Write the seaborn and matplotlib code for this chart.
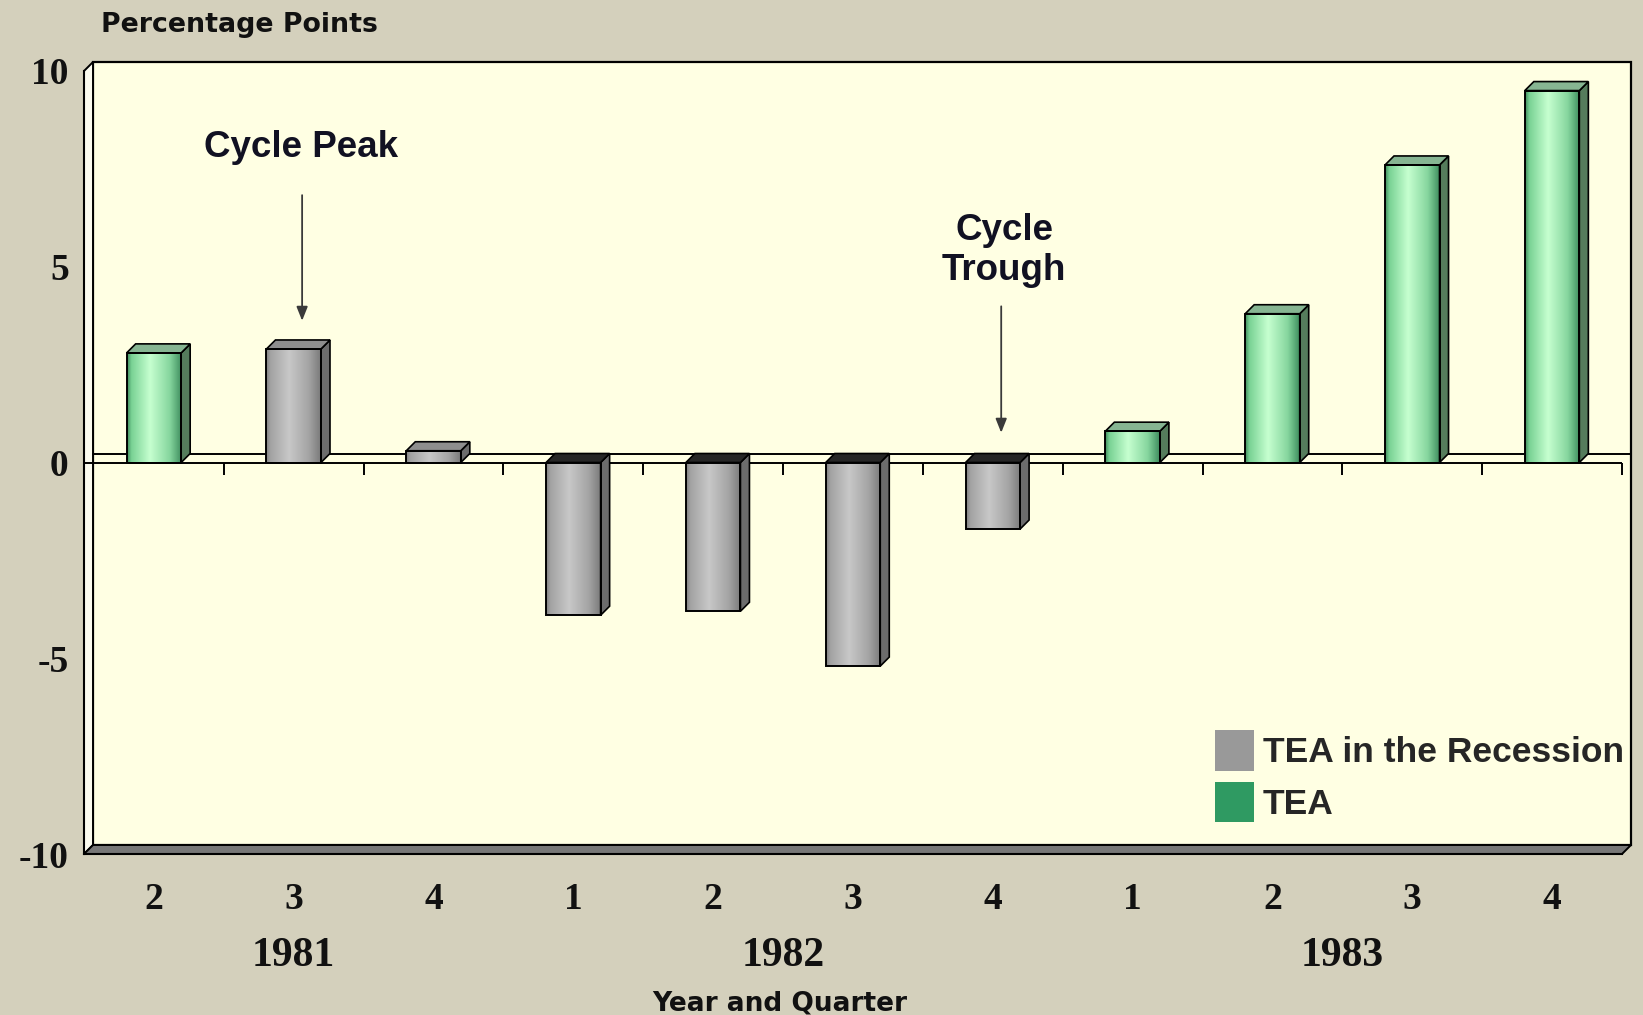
import numpy as np
import pandas as pd
import matplotlib
matplotlib.use("Agg")
import matplotlib.pyplot as plt
import matplotlib.transforms as mtransforms
from matplotlib.colors import LinearSegmentedColormap
from matplotlib.patches import Patch, Polygon, Rectangle
import seaborn as sns

# values
years = ["1981", "1981", "1981", "1982", "1982", "1982", "1982", "1983", "1983", "1983", "1983"]
quarters = ["2", "3", "4", "1", "2", "3", "4", "1", "2", "3", "4"]
tea = [2.8, 2.9, 0.3, -3.9, -3.8, -5.2, -1.7, 0.8, 3.8, 7.6, 9.5]
recession = [False, True, True, True, True, True, True, False, False, False, False]
series_names = ["TEA in the Recession", "TEA"]
yticks = [-10, -5, 0, 5, 10]
peak_period = "1981 Q3"
trough_period = "1982 Q4"

BG = "#d4d0bc"
WALL = "#ffffe3"
legend_colors = {"TEA in the Recession": "#999999", "TEA": "#2f9a62"}

green_cmap = LinearSegmentedColormap.from_list(
    "g", [(0, "#3f8a5c"), (0.08, "#79d294"), (0.42, "#c6ffd0"), (0.78, "#86d69e"), (1, "#3d8c5d")])
gray_cmap = LinearSegmentedColormap.from_list(
    "k", [(0, "#808080"), (0.08, "#a2a2a2"), (0.42, "#c8c8c8"), (0.78, "#a4a4a4"), (1, "#7a7a7a")])

df = pd.DataFrame({
    "period": [f"{y} Q{q}" for y, q in zip(years, quarters)],
    "TEA": tea,
    "series": [series_names[0] if r else series_names[1] for r in recession],
})
periods = list(df["period"])

sns.set_theme(style="white")
plt.rcParams["axes.unicode_minus"] = False

W, H = 1643, 1015
fig = plt.figure(figsize=(W / 100, H / 100), dpi=100, facecolor=BG)
ax = fig.add_axes([84 / W, 1 - 854 / H, (1622 - 84) / W, (854 - 71) / H])
ax.set_facecolor("none")

sns.barplot(data=df, x="period", y="TEA", hue="series", hue_order=series_names,
            palette=legend_colors, dodge=False, width=0.39, saturation=1,
            edgecolor="black", linewidth=1.4, legend=False, ax=ax, zorder=5)
bars = [p for p in ax.patches if isinstance(p, Rectangle) and p.get_height() != 0]

n = len(tea)
ax.set_xlim(-0.5, n - 0.5)
ax.set_ylim(-10, 10)

# 3d depth, in data units
ddx = 9 / (ax.bbox.width / n)
ddy = 9 / (ax.bbox.height / 20)

# back wall, side wall, floor
ax.add_patch(Rectangle((-0.5 + ddx, -10 + ddy), n, 20, fc=WALL, ec="black", lw=1.6,
                       clip_on=False, zorder=0))
ax.add_patch(Polygon([(-0.5, -10), (-0.5 + ddx, -10 + ddy), (-0.5 + ddx, 10 + ddy), (-0.5, 10)],
                     closed=True, fc="#fbfbef", ec="black", lw=1.4, clip_on=False, zorder=0.5))
ax.add_patch(Polygon([(-0.5, -10), (n - 0.5, -10), (n - 0.5 + ddx, -10 + ddy), (-0.5 + ddx, -10 + ddy)],
                     closed=True, fc="#777777", ec="black", lw=1.4, clip_on=False, zorder=1))

# zero plane
ax.plot([-0.5 + ddx, n - 0.5 + ddx], [ddy, ddy], color="black", lw=1.4, zorder=2, clip_on=False)
ax.plot([-0.5, n - 0.5], [0, 0], color="black", lw=1.4, zorder=2)
bounds = np.arange(n + 1) - 0.5
ax.vlines(bounds[1:], -12 / (ax.bbox.height / 20), 0, color="black", lw=1.4, zorder=2, clip_on=False)

# shaded bars with side and top faces
for p in bars:
    x0, w = p.get_x(), p.get_width()
    y0, h = p.get_y(), p.get_height()
    lo, hi = min(y0, y0 + h), max(y0, y0 + h)
    idx = int(round(x0 + w / 2))
    grey = recession[idx]
    ax.imshow(np.linspace(0, 1, 256)[None, :], extent=(x0, x0 + w, lo, hi), aspect="auto",
              cmap=gray_cmap if grey else green_cmap, interpolation="bilinear", zorder=4)
    p.set_facecolor("none")
    x1 = x0 + w
    side_c = "#6c6c6c" if grey else "#557c5c"
    top_c = ("#8e8e8e" if grey else "#86b592") if tea[idx] > 0 else "#262626"
    ax.add_patch(Polygon([(x1, lo), (x1 + ddx, lo + ddy), (x1 + ddx, hi + ddy), (x1, hi)],
                         closed=True, fc=side_c, ec="black", lw=1.2, zorder=4.5))
    ax.add_patch(Polygon([(x0, hi), (x0 + ddx, hi + ddy), (x1 + ddx, hi + ddy), (x1, hi)],
                         closed=True, fc=top_c, ec="black", lw=1.2, zorder=4.5))

ax.set_xlim(-0.5, n - 0.5)
ax.set_ylim(-10, 10)

for s in ["top", "right"]:
    ax.spines[s].set_visible(False)
for s in ["left", "bottom"]:
    ax.spines[s].set_color("black")
    ax.spines[s].set_linewidth(1.5)
    ax.spines[s].set_zorder(3)

ax.set_xticks(range(n))
ax.set_xticklabels(quarters)
ax.set_xticks(bounds, minor=True)
ax.tick_params(axis="x", which="major", length=0, pad=20)
ax.tick_params(axis="x", which="minor", length=10, width=1.4, color="black", direction="out")
ax.set_yticks(yticks)
ax.set_yticklabels([str(v) for v in yticks])
ax.tick_params(axis="y", length=7, width=1.4, color="black", direction="out", pad=4)
for lbl in ax.get_xticklabels() + ax.get_yticklabels():
    lbl.set_fontfamily("Liberation Serif")
    lbl.set_fontweight("bold")
    lbl.set_fontsize(27)
    lbl.set_color("#111111")
ax.set_xlabel("")
ax.set_ylabel("")

# year labels under the quarters
blend = mtransforms.blended_transform_factory(ax.transData, fig.transFigure)
for yr in dict.fromkeys(years):
    pos = np.mean([i for i, y in enumerate(years) if y == yr])
    ax.text(pos, 1 - 956 / H, yr, transform=blend, ha="center", va="center",
            family="Liberation Serif", weight="bold", fontsize=30, color="#111111")

fig.text(780 / W, 1 - 1003 / H, "Year and Quarter", ha="center", va="center",
         weight="bold", fontsize=19, color="#111111")
fig.text(101 / W, 1 - 25 / H, "Percentage Points", ha="left", va="center",
         weight="bold", fontsize=19.3, color="#111111")

# cycle annotations
pk = periods.index(peak_period) + 0.06
tr = periods.index(trough_period) + 0.06
arrow = dict(arrowstyle="-|>,head_length=0.7,head_width=0.28", color="#3a3a3a", lw=1.3)
ax.annotate("", xy=(pk, 3.55), xytext=(pk, 6.9), arrowprops=arrow, zorder=6)
ax.annotate("", xy=(tr, 0.69), xytext=(tr, 4.06), arrowprops=arrow, zorder=6)
ax.text(pk - 0.01, 8.05, "Cycle Peak", ha="center", va="center", family="Liberation Sans",
        weight="bold", fontsize=26.5, color="#111122", zorder=6)
ax.text(tr + 0.02, 5.42, "Cycle\nTrough", ha="center", va="center", family="Liberation Sans",
        weight="bold", fontsize=26.5, color="#111122", linespacing=1.2, zorder=6)

handles = [Patch(facecolor=legend_colors[s], edgecolor="none", label=s) for s in series_names]
ax.legend(handles=handles, loc="upper left", bbox_to_anchor=(1215 / W, 1 - 730 / H),
          bbox_transform=fig.transFigure, frameon=False,
          prop={"family": "Liberation Sans", "weight": "bold", "size": 25.5},
          handlelength=1.1, handleheight=1.4, labelspacing=0.3, handletextpad=0.25,
          borderpad=0, borderaxespad=0)

fig.savefig("out.png", dpi=100, facecolor=BG)
